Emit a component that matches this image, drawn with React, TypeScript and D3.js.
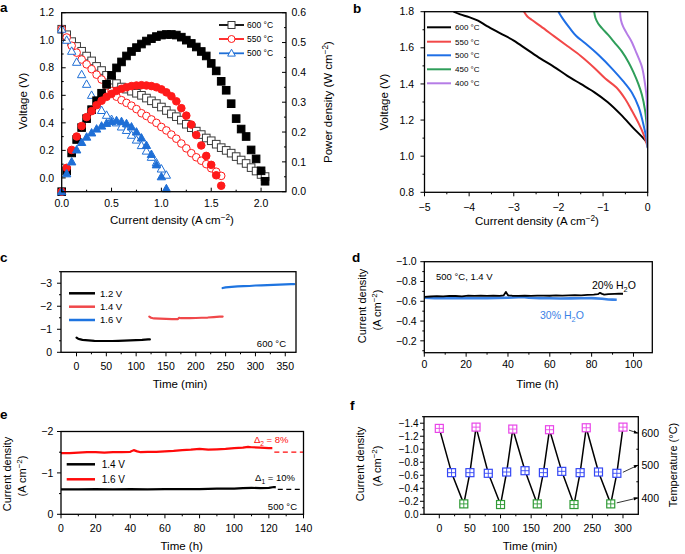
import React from 'react';
import * as d3 from 'd3';

const FONT = "'Liberation Sans', Arial, Helvetica, sans-serif";

// ---------- a: fuel cell polarisation (A cm-2, V, W cm-2) ----------
const aLegend = ['600 °C', '550 °C', '500 °C'];
const aCur600 = [0, 0.05, 0.1, 0.15, 0.2, 0.25, 0.3, 0.35, 0.4, 0.45, 0.5, 0.55, 0.6, 0.65, 0.7, 0.75, 0.8, 0.85, 0.9, 0.95, 1.0, 1.05, 1.1, 1.15, 1.2, 1.25, 1.3, 1.35, 1.4, 1.45, 1.5, 1.55, 1.6, 1.65, 1.7, 1.75, 1.8, 1.85, 1.9, 1.95, 2.0, 2.04];
const aV600 = [1.08, 1.04, 0.99, 0.955, 0.92, 0.885, 0.85, 0.81, 0.78, 0.745, 0.71, 0.685, 0.66, 0.645, 0.63, 0.615, 0.6, 0.58, 0.56, 0.54, 0.515, 0.49, 0.465, 0.445, 0.42, 0.39, 0.365, 0.34, 0.315, 0.29, 0.27, 0.245, 0.22, 0.2, 0.18, 0.155, 0.13, 0.105, 0.075, 0.05, 0.025, 0.01];
const aP600 = [0, 0.07, 0.13, 0.175, 0.215, 0.245, 0.275, 0.305, 0.33, 0.36, 0.39, 0.415, 0.435, 0.455, 0.47, 0.483, 0.495, 0.505, 0.513, 0.52, 0.525, 0.527, 0.527, 0.525, 0.518, 0.508, 0.497, 0.485, 0.47, 0.455, 0.43, 0.405, 0.37, 0.34, 0.295, 0.245, 0.21, 0.185, 0.14, 0.11, 0.07, 0.035];
const aCur550 = [0, 0.05, 0.1, 0.15, 0.2, 0.25, 0.3, 0.35, 0.4, 0.45, 0.5, 0.55, 0.6, 0.65, 0.7, 0.75, 0.8, 0.85, 0.9, 0.95, 1.0, 1.05, 1.1, 1.15, 1.2, 1.25, 1.3, 1.35, 1.4, 1.45, 1.5, 1.55, 1.6];
const aV550 = [1.08, 1.02, 0.96, 0.91, 0.86, 0.825, 0.79, 0.75, 0.715, 0.67, 0.63, 0.59, 0.565, 0.545, 0.525, 0.5, 0.47, 0.45, 0.425, 0.4, 0.37, 0.345, 0.315, 0.285, 0.25, 0.215, 0.18, 0.15, 0.125, 0.1, 0.07, 0.045, 0.015];
const aP550 = [0, 0.08, 0.14, 0.185, 0.22, 0.25, 0.27, 0.29, 0.305, 0.318, 0.328, 0.338, 0.345, 0.35, 0.354, 0.356, 0.357, 0.356, 0.354, 0.35, 0.343, 0.333, 0.32, 0.303, 0.28, 0.255, 0.225, 0.19, 0.155, 0.12, 0.09, 0.055, 0.02];
const aCur500 = [0, 0.05, 0.1, 0.15, 0.2, 0.25, 0.3, 0.35, 0.4, 0.45, 0.5, 0.55, 0.6, 0.65, 0.7, 0.75, 0.8, 0.85, 0.9, 0.95, 1.0, 1.05];
const aV500 = [1.08, 1.0, 0.92, 0.84, 0.75, 0.68, 0.6, 0.54, 0.49, 0.455, 0.425, 0.4, 0.37, 0.345, 0.31, 0.275, 0.235, 0.195, 0.15, 0.11, 0.065, 0.02];
const aP500 = [0, 0.06, 0.1, 0.14, 0.165, 0.183, 0.197, 0.21, 0.22, 0.229, 0.235, 0.238, 0.235, 0.228, 0.217, 0.2, 0.18, 0.155, 0.125, 0.09, 0.05, 0.01];

// ---------- b: electrolysis i-V ----------
const bLegend = ['600 °C', '550 °C', '500 °C', '450 °C', '400 °C'];
const bCur600 = [0, -0.1, -0.3, -0.6, -0.9, -1.2, -1.5, -1.8, -2.1, -2.4, -2.7, -3.0, -3.3, -3.6, -3.8, -4.0, -4.2, -4.35];
const bV600 = [1.07, 1.1, 1.15, 1.23, 1.3, 1.355, 1.4, 1.445, 1.495, 1.54, 1.59, 1.64, 1.68, 1.72, 1.75, 1.77, 1.785, 1.8];
const bCur550 = [0, -0.05, -0.1, -0.2, -0.35, -0.5, -0.7, -0.95, -1.2, -1.5, -1.8, -2.1, -2.4, -2.6, -2.7, -2.77];
const bV550 = [1.05, 1.09, 1.125, 1.18, 1.25, 1.315, 1.38, 1.43, 1.49, 1.555, 1.61, 1.665, 1.72, 1.755, 1.775, 1.8];
const bCur500 = [0, -0.03, -0.1, -0.2, -0.35, -0.55, -0.8, -1.1, -1.4, -1.6, -1.75, -1.9, -2.0];
const bV500 = [1.045, 1.1, 1.18, 1.27, 1.35, 1.415, 1.485, 1.56, 1.625, 1.665, 1.71, 1.76, 1.8];
const bCur450 = [0, -0.02, -0.06, -0.13, -0.21, -0.32, -0.43, -0.58, -0.73, -0.88, -1.03, -1.11, -1.17, -1.2];
const bV450 = [1.05, 1.16, 1.255, 1.34, 1.4, 1.465, 1.52, 1.58, 1.625, 1.67, 1.71, 1.735, 1.765, 1.8];
const bCur400 = [0, -0.01, -0.02, -0.06, -0.13, -0.25, -0.36, -0.47, -0.55, -0.6, -0.62];
const bV400 = [1.05, 1.16, 1.31, 1.4, 1.495, 1.57, 1.634, 1.68, 1.717, 1.754, 1.8];

// ---------- c: 600 °C, stepped voltage ----------
const cLegend = ['1.2 V', '1.4 V', '1.6 V'];
const cT12 = [0, 2, 5, 10, 20, 30, 40, 50, 60, 70, 80, 90, 100, 110, 120, 123];
const cJ12 = [-0.64, -0.6, -0.57, -0.54, -0.52, -0.5, -0.49, -0.49, -0.49, -0.5, -0.51, -0.52, -0.53, -0.54, -0.56, -0.56];
const cT14 = [122, 125, 130, 140, 150, 160, 170, 172, 175, 180, 190, 200, 210, 220, 230, 240, 245];
const cJ14 = [-1.55, -1.5, -1.47, -1.46, -1.45, -1.44, -1.44, -1.5, -1.48, -1.48, -1.48, -1.49, -1.5, -1.51, -1.53, -1.55, -1.55];
const cT16 = [245, 250, 260, 270, 280, 290, 300, 310, 320, 330, 340, 350, 360, 365];
const cJ16 = [-2.79, -2.82, -2.84, -2.86, -2.87, -2.88, -2.9, -2.91, -2.92, -2.93, -2.94, -2.95, -2.96, -2.96];

// ---------- d: 500 °C, 1.4 V, steam content ----------
const dT20 = [0, 3, 6, 9, 12, 15, 18, 21, 24, 27, 30, 33, 36, 38, 39, 40, 42, 45, 48, 51, 54, 57, 60, 63, 66, 69, 72, 75, 78, 81, 83, 84, 85, 86, 88, 91, 93, 95];
const dJ20 = [-0.645, -0.648, -0.652, -0.65, -0.655, -0.653, -0.65, -0.656, -0.654, -0.658, -0.655, -0.657, -0.655, -0.66, -0.695, -0.66, -0.656, -0.655, -0.658, -0.655, -0.657, -0.658, -0.656, -0.659, -0.657, -0.66, -0.662, -0.66, -0.664, -0.668, -0.672, -0.685, -0.675, -0.668, -0.672, -0.675, -0.676, -0.676];
const dT30 = [0, 5, 10, 15, 20, 25, 30, 35, 40, 45, 48, 50, 55, 60, 65, 70, 75, 80, 85, 88, 90, 92];
const dJ30 = [-0.635, -0.632, -0.634, -0.631, -0.633, -0.63, -0.632, -0.634, -0.636, -0.64, -0.642, -0.635, -0.632, -0.63, -0.628, -0.629, -0.63, -0.632, -0.625, -0.618, -0.617, -0.615];

// ---------- e: 500 °C long-term ----------
const eLegend = ['1.4 V', '1.6 V'];
const eT14 = [0, 10, 20, 30, 40, 50, 60, 70, 80, 90, 100, 105, 110, 115, 120, 123, 124];
const eJ14 = [-0.6, -0.6, -0.61, -0.6, -0.61, -0.6, -0.61, -0.61, -0.61, -0.62, -0.62, -0.63, -0.64, -0.63, -0.64, -0.66, -0.65];
const eT16 = [0, 5, 10, 15, 20, 25, 30, 35, 40, 42, 44, 46, 50, 55, 60, 65, 70, 75, 80, 85, 90, 95, 100, 105, 108, 110, 115, 120, 122];
const eJ16 = [-1.48, -1.48, -1.49, -1.5, -1.5, -1.49, -1.5, -1.5, -1.51, -1.55, -1.52, -1.5, -1.51, -1.51, -1.52, -1.53, -1.55, -1.56, -1.58, -1.56, -1.57, -1.58, -1.6, -1.61, -1.63, -1.62, -1.61, -1.6, -1.6];
const eRef14 = -0.6;
const eRef16 = -1.5;

// ---------- f: thermal cycling ----------
const fTime = [0, 20, 40, 50, 60, 80, 100, 110, 120, 140, 160, 170, 180, 200, 220, 230, 240, 260, 280, 290, 300];
const fJ = [-1.32, -0.64, -0.16, -0.64, -1.34, -0.63, -0.15, -0.65, -1.31, -0.67, -0.16, -0.64, -1.3, -0.66, -0.15, -0.64, -1.33, -0.65, -0.16, -0.63, -1.34];
const fTemp = [600, 500, 400, 500, 600, 500, 400, 500, 600, 500, 400, 500, 600, 500, 400, 500, 600, 500, 400, 500, 600];
const fTempColor: Record<number, string> = { 600: '#e845e8', 500: '#3548f5', 400: '#2f9a35' };

type Lin = d3.ScaleLinear<number, number>;
type Pt = [number, number];

const f1 = d3.format('.1f');
const f0 = d3.format('d');
const TICK = 10.5;

function Axis(props: {
  orient: 'left' | 'right' | 'bottom';
  scale: Lin;
  at: number;
  major: number[];
  minor?: number[];
  fmt: (v: number) => string;
  inward?: boolean;
  gap: number;
  size?: number;
  len?: number;
}) {
  const { orient, scale, at, major, minor = [], fmt, inward = false, gap, size = TICK, len = 4 } = props;
  let sgn = 1;
  if (orient === 'left') sgn = inward ? 1 : -1;
  else sgn = inward ? -1 : 1;
  const tick = (v: number, l: number, key: string) =>
    orient === 'bottom' ? (
      <line key={key} x1={scale(v)} x2={scale(v)} y1={at} y2={at + sgn * l} />
    ) : (
      <line key={key} x1={at} x2={at + sgn * l} y1={scale(v)} y2={scale(v)} />
    );
  return (
    <g>
      <g stroke="#000" strokeWidth={1}>
        {major.map((v, i) => tick(v, len, 'M' + i))}
        {minor.map((v, i) => tick(v, len / 2, 'm' + i))}
      </g>
      <g fontSize={size} fill="#000">
        {major.map((v, i) =>
          orient === 'bottom' ? (
            <text key={i} x={scale(v)} y={at + gap} textAnchor="middle">{fmt(v)}</text>
          ) : (
            <text key={i} x={orient === 'left' ? at - gap : at + gap} y={scale(v)} dy="0.35em"
              textAnchor={orient === 'left' ? 'end' : 'start'}>{fmt(v)}</text>
          )
        )}
      </g>
    </g>
  );
}

function Frame({ x, y }: { x: Lin; y: Lin }) {
  const [x0, x1] = x.range();
  const [y1, y0] = y.range();
  return <rect x={x0} y={y0} width={x1 - x0} height={y1 - y0} fill="none" stroke="#000" strokeWidth={1.3} />;
}

function Marker({ shape, x, y, s, fill, stroke }: { shape: string; x: number; y: number; s: number; fill: string; stroke: string }) {
  if (shape === 'square') return <rect x={x - s / 2} y={y - s / 2} width={s} height={s} fill={fill} stroke={stroke} strokeWidth={1} />;
  if (shape === 'circle') return <circle cx={x} cy={y} r={s / 2} fill={fill} stroke={stroke} strokeWidth={1} />;
  return <path d={`M${x},${y - s * 0.58}L${x + s * 0.55},${y + s * 0.4}L${x - s * 0.55},${y + s * 0.4}Z`} fill={fill} stroke={stroke} strokeWidth={1} />;
}

const Unit = ({ pre, sup, post }: { pre: string; sup: string; post: string }) => (
  <>
    {pre}
    <tspan dy={-4} fontSize="0.72em">{sup}</tspan>
    <tspan dy={4}>{post}</tspan>
  </>
);

function VTitle({ x, y, children, size = 11.5, fill = '#000' }: { x: number; y: number; children: React.ReactNode; size?: number; fill?: string }) {
  return (
    <text transform={`translate(${x},${y}) rotate(-90)`} textAnchor="middle" dy="0.35em" fontSize={size} fill={fill}>
      {children}
    </text>
  );
}

const Label = ({ x, y, t }: { x: number; y: number; t: string }) => (
  <text x={x} y={y} fontSize={13.5} fontWeight="bold">{t}</text>
);

const pts = (xs: number[], ys: number[]): Pt[] => xs.map((v, i) => [v, ys[i]]);

function PanelA() {
  const x = d3.scaleLinear().domain([0, 2.25]).range([61.7, 286]);
  const yV = d3.scaleLinear().domain([-0.1, 1.2]).range([191.7, 12.7]);
  const yP = d3.scaleLinear().domain([0, 0.6]).range([191.7, 12.7]);
  const series = [
    { cur: aCur600, v: aV600, p: aP600, shape: 'square', color: '#000', open: '#3a3a3a' },
    { cur: aCur550, v: aV550, p: aP550, shape: 'circle', color: '#ff1a1a', open: '#ff1a1a' },
    { cur: aCur500, v: aV500, p: aP500, shape: 'triangle', color: '#1f6fd6', open: '#1f6fd6' },
  ];
  const legY = [25, 39, 53.3];
  const ms = 7.6;
  return (
    <g>
      {series.map((s, k) => (
        <g key={'o' + k}>
          {s.cur.map((c, i) => (
            <Marker key={i} shape={s.shape} x={x(c)} y={yV(s.v[i])} s={ms} fill="#fff" stroke={s.open} />
          ))}
        </g>
      ))}
      {series.map((s, k) => (
        <g key={'f' + k}>
          {s.cur.map((c, i) => (
            <Marker key={i} shape={s.shape} x={x(c)} y={yP(s.p[i])} s={ms} fill={s.color} stroke={s.color} />
          ))}
        </g>
      ))}
      <Frame x={x} y={yV} />
      <Axis orient="left" scale={yV} at={61.7} major={[0, 0.2, 0.4, 0.6, 0.8, 1.0, 1.2]} minor={[-0.1, 0.1, 0.3, 0.5, 0.7, 0.9, 1.1]} fmt={f1} inward gap={7.5} />
      <Axis orient="right" scale={yP} at={286} major={[0, 0.1, 0.2, 0.3, 0.4, 0.5, 0.6]} minor={[0.05, 0.15, 0.25, 0.35, 0.45, 0.55]} fmt={f1} inward gap={5.5} />
      <Axis orient="bottom" scale={x} at={191.7} major={[0, 0.5, 1.0, 1.5, 2.0]} minor={[0.25, 0.75, 1.25, 1.75]} fmt={f1} inward gap={15} />
      {series.map((s, k) => (
        <g key={'l' + k}>
          <line x1={219} x2={244} y1={legY[k]} y2={legY[k]} stroke={s.color} strokeWidth={1.8} />
          <Marker shape={s.shape} x={231.5} y={legY[k]} s={7} fill="#fff" stroke={s.open} />
          <text x={247} y={legY[k]} dy="0.35em" fontSize={8.5}>{aLegend[k]}</text>
        </g>
      ))}
      <Label x={0} y={11.7} t="a" />
      <VTitle x={22.5} y={101}>Voltage (V)</VTitle>
      <VTitle x={328} y={102}><Unit pre="Power density (W cm" sup="−2" post=")" /></VTitle>
      <text x={172} y={223.5} textAnchor="middle" fontSize={11.5}><Unit pre="Current density (A cm" sup="−2" post=")" /></text>
    </g>
  );
}

function PanelB() {
  const x = d3.scaleLinear().domain([-5, 0]).range([424.5, 647.7]);
  const y = d3.scaleLinear().domain([0.8, 1.8]).range([192.3, 11.7]);
  const line = d3.line<Pt>().x((d) => x(d[0])).y((d) => y(d[1])).curve(d3.curveCatmullRom.alpha(0.5));
  const series = [
    { d: pts(bCur600, bV600), c: '#000' },
    { d: pts(bCur550, bV550), c: '#f24848' },
    { d: pts(bCur500, bV500), c: '#1f6fe6' },
    { d: pts(bCur450, bV450), c: '#2f9e5a' },
    { d: pts(bCur400, bV400), c: '#b57ce6' },
  ];
  const legY = [27.3, 41.7, 55.3, 69.3, 83.3];
  return (
    <g>
      <defs>
        <clipPath id="clipB"><rect x={424.5} y={11.7} width={223.2} height={180.6} /></clipPath>
      </defs>
      <g clipPath="url(#clipB)" fill="none" strokeWidth={2} strokeLinejoin="round">
        {series.map((s, k) => <path key={k} d={line(s.d) || ''} stroke={s.c} />)}
      </g>
      <Frame x={x} y={y} />
      <Axis orient="left" scale={y} at={424.5} major={[0.8, 1.0, 1.2, 1.4, 1.6, 1.8]} minor={[0.9, 1.1, 1.3, 1.5, 1.7]} fmt={f1} gap={10.5} />
      <Axis orient="bottom" scale={x} at={192.3} major={[-5, -4, -3, -2, -1, 0]} minor={[-4.5, -3.5, -2.5, -1.5, -0.5]} fmt={f0} gap={18.3} />
      {series.map((s, k) => (
        <g key={'l' + k}>
          <line x1={427} x2={451} y1={legY[k]} y2={legY[k]} stroke={s.c} strokeWidth={2} />
          <text x={455} y={legY[k]} dy="0.35em" fontSize={8}>{bLegend[k]}</text>
        </g>
      ))}
      <Label x={353} y={13.3} t="b" />
      <VTitle x={383.5} y={102}>Voltage (V)</VTitle>
      <text x={537} y={224.5} textAnchor="middle" fontSize={11.5}><Unit pre="Current density (A cm" sup="−2" post=")" /></text>
    </g>
  );
}

function PanelC() {
  const x = d3.scaleLinear().domain([-26, 368]).range([61, 296]);
  const y = d3.scaleLinear().domain([0, -3.5]).range([352.3, 271.7]);
  const line = d3.line<Pt>().x((d) => x(d[0])).y((d) => y(d[1]));
  const series = [
    { d: pts(cT12, cJ12), c: '#000' },
    { d: pts(cT14, cJ14), c: '#f0484a' },
    { d: pts(cT16, cJ16), c: '#1e74e0' },
  ];
  const legY = [293.3, 306.7, 320];
  return (
    <g>
      <g fill="none" strokeWidth={2.2} strokeLinejoin="round" strokeLinecap="round">
        {series.map((s, k) => <path key={k} d={line(s.d) || ''} stroke={s.c} />)}
      </g>
      <Frame x={x} y={y} />
      <Axis orient="left" scale={y} at={61} major={[0, -1, -2, -3]} minor={[-0.5, -1.5, -2.5, -3.5]} fmt={f0} gap={9} />
      <Axis orient="bottom" scale={x} at={352.3} major={[0, 50, 100, 150, 200, 250, 300, 350]} minor={[25, 75, 125, 175, 225, 275, 325]} fmt={f0} gap={17.7} />
      {series.map((s, k) => (
        <g key={'l' + k}>
          <line x1={69} x2={95} y1={legY[k]} y2={legY[k]} stroke={s.c} strokeWidth={2.5} />
          <text x={100} y={legY[k]} dy="0.35em" fontSize={9.5}>{cLegend[k]}</text>
        </g>
      ))}
      <text x={286} y={346.5} textAnchor="end" fontSize={9.5}>600 °C</text>
      <Label x={0} y={261.7} t="c" />
      <text x={180} y={388.3} textAnchor="middle" fontSize={11.5}>Time (min)</text>
    </g>
  );
}

const H2O = ({ pre }: { pre: string }) => (
  <>
    {pre}H<tspan dy={3} fontSize="0.7em">2</tspan><tspan dy={-3}>O</tspan>
  </>
);

function PanelD() {
  const x = d3.scaleLinear().domain([0, 109]).range([424.3, 652.3]);
  const y = d3.scaleLinear().domain([-0.08, -1.0]).range([352.7, 261.7]);
  const line = d3.line<Pt>().x((d) => x(d[0])).y((d) => y(d[1]));
  return (
    <g>
      <g fill="none" strokeLinejoin="round">
        <path d={line(pts(dT30, dJ30)) || ''} stroke="#3a82e6" strokeWidth={2.6} />
        <path d={line(pts(dT20, dJ20)) || ''} stroke="#000" strokeWidth={1.8} />
      </g>
      <Frame x={x} y={y} />
      <Axis orient="left" scale={y} at={424.3} major={[-1.0, -0.8, -0.6, -0.4, -0.2]} minor={[-0.9, -0.7, -0.5, -0.3, -0.1]} fmt={f1} gap={7.6} />
      <Axis orient="bottom" scale={x} at={352.7} major={[0, 20, 40, 60, 80, 100]} minor={[10, 30, 50, 70, 90]} fmt={f0} gap={15.6} />
      <text x={436} y={280} fontSize={9.5}>500 °C, 1.4 V</text>
      <text x={592} y={288.5} fontSize={10.5}><H2O pre="20% " /></text>
      <text x={540} y={318.5} fontSize={10.5} fill="#3a82e6"><H2O pre="30% " /></text>
      <Label x={352} y={261.7} t="d" />
      <VTitle x={361.7} y={306} size={11}>Current density</VTitle>
      <VTitle x={376.7} y={310} size={11}><Unit pre="(A cm" sup="−2" post=")" /></VTitle>
      <text x={537.5} y={388.3} textAnchor="middle" fontSize={11.5}>Time (h)</text>
    </g>
  );
}

function PanelE() {
  const x = d3.scaleLinear().domain([0, 140]).range([61, 303.5]);
  const y = d3.scaleLinear().domain([0, -2]).range([514.3, 431.5]);
  const line = d3.line<Pt>().x((d) => x(d[0])).y((d) => y(d[1]));
  const series = [
    { t: eT14, j: eJ14, ref: eRef14, c: '#000' },
    { t: eT16, j: eJ16, ref: eRef16, c: '#ff0a0a' },
  ];
  const legY = [464.3, 479.3];
  const tMax = x.domain()[1];
  return (
    <g>
      <g fill="none" strokeLinejoin="round">
        {series.map((s, k) => (
          <g key={k}>
            <path d={line(pts(s.t, s.j)) || ''} stroke={s.c} strokeWidth={2.2} />
            <line x1={x(s.t[s.t.length - 1]) + 2} x2={x(tMax)} y1={y(s.ref)} y2={y(s.ref)} stroke={s.c} strokeWidth={1.2} strokeDasharray="5,3.5" />
          </g>
        ))}
      </g>
      <Frame x={x} y={y} />
      <Axis orient="left" scale={y} at={61} major={[0, -1, -2]} minor={[-0.5, -1.5]} fmt={f0} gap={7.7} />
      <Axis orient="bottom" scale={x} at={514.3} major={[0, 20, 40, 60, 80, 100, 120, 140]} minor={[10, 30, 50, 70, 90, 110, 130]} fmt={f0} gap={17.4} />
      {series.map((s, k) => (
        <g key={'l' + k}>
          <line x1={66.7} x2={95} y1={legY[k]} y2={legY[k]} stroke={s.c} strokeWidth={2.5} />
          <text x={101.7} y={legY[k]} dy="0.35em" fontSize={10}>{eLegend[k]}</text>
        </g>
      ))}
      <text x={288.5} y={443} textAnchor="end" fontSize={9.5} fill="#ff0a0a">Δ<tspan dy={2.5} fontSize="0.7em">2</tspan><tspan dy={-2.5}> = 8%</tspan></text>
      <text x={295} y={481} textAnchor="end" fontSize={9.5}>Δ<tspan dy={2.5} fontSize="0.7em">1</tspan><tspan dy={-2.5}> = 10%</tspan></text>
      <text x={297} y={510} textAnchor="end" fontSize={9.5}>500 °C</text>
      <Label x={0} y={419} t="e" />
      <VTitle x={7.5} y={474} size={11}>Current density</VTitle>
      <VTitle x={21.7} y={476} size={11}><Unit pre="(A cm" sup="−2" post=")" /></VTitle>
      <text x={181.7} y={550} textAnchor="middle" fontSize={11.5}>Time (h)</text>
    </g>
  );
}

function PanelF() {
  const x = d3.scaleLinear().domain([-25, 325]).range([424, 638.3]);
  const y = d3.scaleLinear().domain([0, -1.5]).range([514.3, 416.7]);
  const yT = d3.scaleLinear().domain([350, 650]).range([514.3, 416.7]);
  const line = d3.line<number>().x((i) => x(fTime[i])).y((i) => y(fJ[i]));
  const idx = fTime.map((_, i) => i);
  const s = 8;
  // arrows from the last point at each temperature to the right axis
  const arrows = [600, 500, 400].map((T) => {
    const i = fTemp.lastIndexOf(T);
    return { x1: x(fTime[i]) + s * 0.75, y1: y(fJ[i]) + (T === 600 ? 3 : -1), x2: x.range()[1] - 1, y2: yT(T) };
  });
  return (
    <g>
      <defs>
        <marker id="arrF" viewBox="0 0 10 10" refX={9} refY={5} markerWidth={5} markerHeight={5} orient="auto">
          <path d="M0,1L10,5L0,9Z" fill="#000" />
        </marker>
      </defs>
      <path d={line(idx) || ''} fill="none" stroke="#000" strokeWidth={1.5} strokeLinejoin="round" />
      {idx.map((i) => {
        const cx = x(fTime[i]);
        const cy = y(fJ[i]);
        const c = fTempColor[fTemp[i]];
        return (
          <g key={i} stroke={c} strokeWidth={1.2}>
            <rect x={cx - s / 2} y={cy - s / 2} width={s} height={s} fill="#fff" />
            <line x1={cx} x2={cx} y1={cy - s / 2} y2={cy + s / 2} strokeWidth={0.9} />
            <line x1={cx - s / 2} x2={cx + s / 2} y1={cy} y2={cy} strokeWidth={0.9} />
          </g>
        );
      })}
      {arrows.map((a, k) => (
        <line key={k} x1={a.x1} y1={a.y1} x2={a.x2} y2={a.y2} stroke="#000" strokeWidth={0.8} markerEnd="url(#arrF)" />
      ))}
      <Frame x={x} y={y} />
      <Axis orient="left" scale={y} at={424} major={[0, -0.2, -0.4, -0.6, -0.8, -1.0, -1.2, -1.4]} minor={[-0.1, -0.3, -0.5, -0.7, -0.9, -1.1, -1.3, -1.5]} fmt={f1} gap={5.5} size={10} />
      <Axis orient="right" scale={yT} at={638.3} major={[400, 500, 600]} minor={[450, 550]} fmt={f0} inward gap={3.2} />
      <Axis orient="bottom" scale={x} at={514.3} major={[0, 50, 100, 150, 200, 250, 300]} minor={[25, 75, 125, 175, 225, 275]} fmt={f0} gap={17.4} />
      <Label x={350} y={410} t="f" />
      <VTitle x={360.3} y={464} size={11}>Current density</VTitle>
      <VTitle x={376.7} y={466} size={11}><Unit pre="(A cm" sup="−2" post=")" /></VTitle>
      <VTitle x={673} y={465} size={11}>Temperature (°C)</VTitle>
      <text x={530} y={550} textAnchor="middle" fontSize={11.5}>Time (min)</text>
    </g>
  );
}

export default function App() {
  return (
    <svg width={685} height={554} viewBox="0 0 685 554" fontFamily={FONT}
      style={{ position: 'absolute', left: 0, top: 0, background: '#fff' }}>
      <rect width={685} height={554} fill="#fff" />
      <PanelA />
      <PanelB />
      <PanelC />
      <PanelD />
      <PanelE />
      <PanelF />
    </svg>
  );
}
